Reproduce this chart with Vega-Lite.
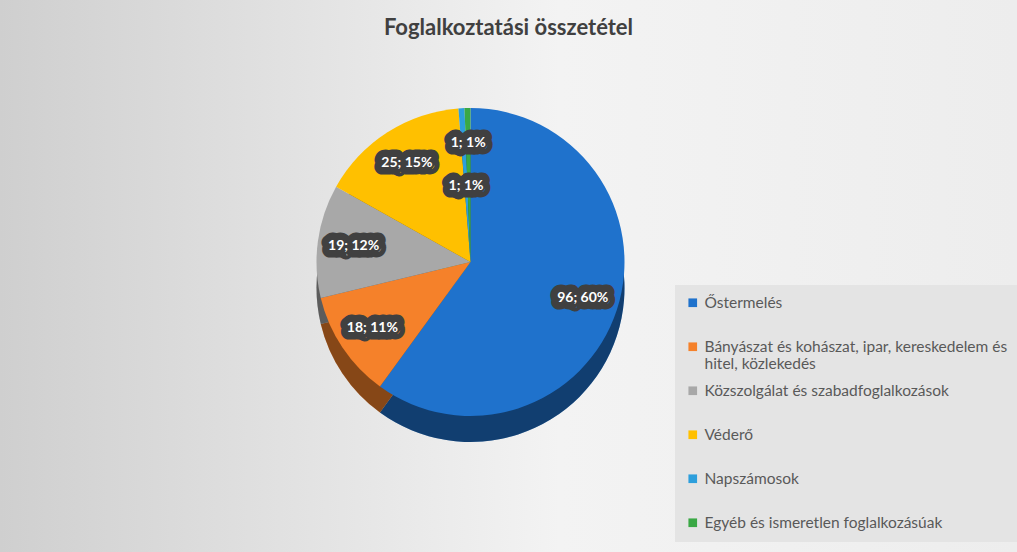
{
  "$schema": "https://vega.github.io/schema/vega-lite/v6.json",
  "width": 1017,
  "height": 552,
  "autosize": {"type": "none"},
  "padding": 0,
  "background": "#e9e9e9",
  "title": {"text": "Foglalkoztatási összetétel", "anchor": "middle", "offset": -40, "font": "Lato", "fontSize": 22, "fontWeight": "bold", "color": "#404040"},
  "data": {"values": [
    {"idx": 1, "category": "Őstermelés", "value": 96, "label": "96; 60%"},
    {"idx": 2, "category": "Bányászat és kohászat, ipar, kereskedelem és hitel, közlekedés", "value": 18, "label": "18; 11%"},
    {"idx": 3, "category": "Közszolgálat és szabadfoglalkozások", "value": 19, "label": "19; 12%"},
    {"idx": 4, "category": "Véderő", "value": 25, "label": "25; 15%"},
    {"idx": 5, "category": "Napszámosok", "value": 1, "label": "1; 1%"},
    {"idx": 6, "category": "Egyéb és ismeretlen foglalkozásúak", "value": 1, "label": "1; 1%"}
  ]},
  "config": {
    "view": {"stroke": null},
    "legend": {
      "orient": "none", "legendX": 675, "legendY": 285,
      "symbolType": "square", "symbolSize": 75, "symbolStrokeWidth": 0,
      "labelFont": "Lato", "labelFontSize": 15.5, "labelColor": "#595959", "labelLimit": 340, "labelOffset": 4,
      "fillColor": "#e4e4e4", "padding": 10, "rowPadding": 10, "gridAlign": "all"
    }
  },
  "layer": [
    {
      "mark": {"type": "rect", "fill": {"gradient": "linear", "x1": 0, "x2": 1, "y1": 0, "y2": 0, "stops": [{"offset": 0, "color": "#cfcfcf"}, {"offset": 0.55, "color": "#f3f3f3"}, {"offset": 1, "color": "#ededed"}]}},
      "encoding": {}
    },
    {
      "mark": {"type": "arc", "outerRadius": 154, "xOffset": -38, "yOffset": 12},
      "encoding": {
        "theta": {"field": "value", "type": "quantitative", "stack": true},
        "order": {"field": "idx", "type": "quantitative"},
        "color": {"field": "category", "type": "nominal",
          "scale": {"domain": ["Őstermelés", "Bányászat és kohászat, ipar, kereskedelem és hitel, közlekedés", "Közszolgálat és szabadfoglalkozások", "Véderő", "Napszámosok", "Egyéb és ismeretlen foglalkozásúak"],
                    "range": ["#1f72cc", "#f5812a", "#a8a8a8", "#ffc000", "#2d9fdc", "#3aa845"]},
          "legend": {"title": null, "labelExpr": "datum.label == 'Bányászat és kohászat, ipar, kereskedelem és hitel, közlekedés' ? ['Bányászat és kohászat, ipar, kereskedelem és', 'hitel, közlekedés'] : datum.label"}}
      }
    },
    {
      "mark": {"type": "arc", "outerRadius": 154, "xOffset": -38, "yOffset": 12, "color": "#000000", "opacity": 0.45},
      "encoding": {
        "theta": {"field": "value", "type": "quantitative", "stack": true},
        "order": {"field": "idx", "type": "quantitative"}
      }
    },
    {
      "mark": {"type": "arc", "outerRadius": 154, "xOffset": -38, "yOffset": -14},
      "encoding": {
        "theta": {"field": "value", "type": "quantitative", "stack": true},
        "order": {"field": "idx", "type": "quantitative"},
        "color": {"field": "category", "type": "nominal"}
      }
    },
    {
      "mark": {"type": "text", "radius": 118, "dx": -38, "dy": -14, "font": "Lato", "fontSize": 14, "fontWeight": "bold", "fill": "#404040", "stroke": "#404040", "strokeWidth": 15, "strokeJoin": "round"},
      "encoding": {
        "theta": {"field": "value", "type": "quantitative", "stack": true},
        "order": {"field": "idx", "type": "quantitative"},
        "text": {"condition": {"test": "datum.idx <= 4", "field": "label"}, "value": ""}
      }
    },
    {
      "mark": {"type": "text", "radius": 76, "dx": -38, "dy": -14, "font": "Lato", "fontSize": 14, "fontWeight": "bold", "fill": "#404040", "stroke": "#404040", "strokeWidth": 15, "strokeJoin": "round"},
      "encoding": {
        "theta": {"field": "value", "type": "quantitative", "stack": true},
        "order": {"field": "idx", "type": "quantitative"},
        "text": {"condition": {"test": "datum.idx == 5", "field": "label"}, "value": ""}
      }
    },
    {
      "mark": {"type": "text", "radius": 119, "dx": -38, "dy": -14, "font": "Lato", "fontSize": 14, "fontWeight": "bold", "fill": "#404040", "stroke": "#404040", "strokeWidth": 15, "strokeJoin": "round"},
      "encoding": {
        "theta": {"field": "value", "type": "quantitative", "stack": true},
        "order": {"field": "idx", "type": "quantitative"},
        "text": {"condition": {"test": "datum.idx == 6", "field": "label"}, "value": ""}
      }
    },
    {
      "mark": {"type": "text", "radius": 118, "dx": -38, "dy": -14, "font": "Lato", "fontSize": 14, "fontWeight": "bold", "fill": "#ffffff"},
      "encoding": {
        "theta": {"field": "value", "type": "quantitative", "stack": true},
        "order": {"field": "idx", "type": "quantitative"},
        "text": {"condition": {"test": "datum.idx <= 4", "field": "label"}, "value": ""}
      }
    },
    {
      "mark": {"type": "text", "radius": 76, "dx": -38, "dy": -14, "font": "Lato", "fontSize": 14, "fontWeight": "bold", "fill": "#ffffff"},
      "encoding": {
        "theta": {"field": "value", "type": "quantitative", "stack": true},
        "order": {"field": "idx", "type": "quantitative"},
        "text": {"condition": {"test": "datum.idx == 5", "field": "label"}, "value": ""}
      }
    },
    {
      "mark": {"type": "text", "radius": 119, "dx": -38, "dy": -14, "font": "Lato", "fontSize": 14, "fontWeight": "bold", "fill": "#ffffff"},
      "encoding": {
        "theta": {"field": "value", "type": "quantitative", "stack": true},
        "order": {"field": "idx", "type": "quantitative"},
        "text": {"condition": {"test": "datum.idx == 6", "field": "label"}, "value": ""}
      }
    }
  ]
}
